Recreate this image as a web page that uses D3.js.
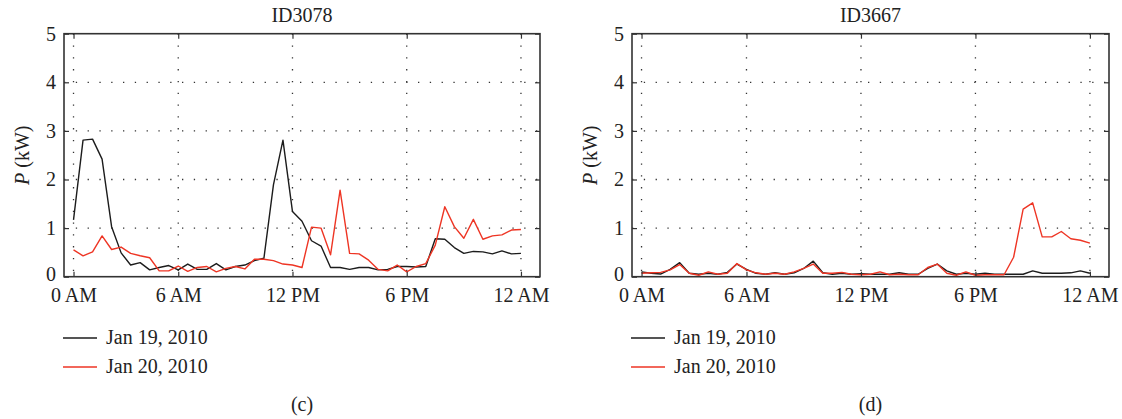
<!DOCTYPE html>
<html lang="en">
<head>
<meta charset="utf-8">
<title>ID3078 / ID3667 load profiles</title>
<script src="https://d3js.org/d3.v7.min.js" charset="utf-8"></script>
<style>
  body { margin: 0; background: #fff; }
  svg text { font-family: "Liberation Serif", "Times New Roman", serif; fill: #222; }
</style>
</head>
<body>
<div id="chart"></div>
<script>
// half-hour samples, numbered 1..48
var slots = d3.range(1, 49);
var xTickValues = [1, 12, 24, 36, 48];
var xTickLabels = ["0 AM", "6 AM", "12 PM", "6 PM", "12 AM"];
var yTickValues = [0, 1, 2, 3, 4, 5];
var seriesNames = ["Jan 19, 2010", "Jan 20, 2010"];

var id3078Jan19 = [1.17, 2.81, 2.83, 2.42, 1.03, 0.49, 0.24, 0.29, 0.14, 0.19, 0.23, 0.14,
                   0.26, 0.15, 0.15, 0.27, 0.14, 0.21, 0.24, 0.33, 0.38, 1.89, 2.81, 1.34,
                   1.14, 0.74, 0.63, 0.19, 0.19, 0.15, 0.19, 0.19, 0.14, 0.15, 0.21, 0.21,
                   0.20, 0.21, 0.78, 0.77, 0.60, 0.48, 0.52, 0.51, 0.47, 0.53, 0.47, 0.48];
var id3078Jan20 = [0.55, 0.43, 0.51, 0.84, 0.56, 0.61, 0.48, 0.43, 0.39, 0.12, 0.12, 0.22,
                   0.11, 0.19, 0.21, 0.10, 0.17, 0.21, 0.16, 0.36, 0.36, 0.33, 0.26, 0.24,
                   0.19, 1.02, 1.00, 0.45, 1.78, 0.48, 0.47, 0.34, 0.15, 0.12, 0.24, 0.10,
                   0.21, 0.27, 0.65, 1.44, 1.03, 0.79, 1.18, 0.77, 0.84, 0.86, 0.96, 0.97];
var id3667Jan19 = [0.10, 0.07, 0.055, 0.15, 0.29, 0.07, 0.05, 0.07, 0.05, 0.09, 0.26, 0.15,
                   0.07, 0.05, 0.08, 0.05, 0.08, 0.17, 0.32, 0.08, 0.05, 0.07, 0.05, 0.06,
                   0.05, 0.05, 0.05, 0.08, 0.05, 0.05, 0.17, 0.26, 0.12, 0.05, 0.07, 0.05,
                   0.07, 0.05, 0.05, 0.05, 0.05, 0.12, 0.07, 0.07, 0.07, 0.08, 0.12, 0.07];
var id3667Jan20 = [0.07, 0.08, 0.09, 0.14, 0.25, 0.07, 0.03, 0.10, 0.05, 0.07, 0.27, 0.14,
                   0.08, 0.05, 0.07, 0.05, 0.10, 0.17, 0.26, 0.07, 0.07, 0.09, 0.05, 0.04,
                   0.05, 0.10, 0.04, 0.05, 0.04, 0.04, 0.19, 0.26, 0.07, 0.03, 0.10, 0.03,
                   0.04, 0.04, 0.04, 0.40, 1.39, 1.52, 0.82, 0.82, 0.93, 0.78, 0.75, 0.69];

var colors = ["#1c1c1c", "#ee3524"];
var fontSize = 20;

var svg = d3.select("#chart").append("svg")
    .attr("width", 1122)
    .attr("height", 419);

var panels = [
    { title: "ID3078", caption: "(c)", left: 64,  right: 540,  series: [id3078Jan19, id3078Jan20] },
    { title: "ID3667", caption: "(d)", left: 632, right: 1109, series: [id3667Jan19, id3667Jan20] }
];

var plotTop = 33.7, plotBottom = 276.7;

panels.forEach(function(p) {
    var x = d3.scaleLinear().domain([0, 50]).range([p.left, p.right]);
    var y = d3.scaleLinear().domain([0, 5]).range([plotBottom, plotTop]);
    var g = svg.append("g");
    var cx = (p.left + p.right) / 2;

    // dotted grid
    g.selectAll(".hgrid").data(yTickValues.slice(1, 5)).enter().append("line")
        .attr("x1", p.left).attr("x2", p.right)
        .attr("y1", function(d) { return y(d); }).attr("y2", function(d) { return y(d); })
        .attr("stroke", "#333").attr("stroke-width", 1.3)
        .attr("stroke-dasharray", "1.3,10.5");
    g.selectAll(".vgrid").data(xTickValues).enter().append("line")
        .attr("x1", function(d) { return x(d); }).attr("x2", function(d) { return x(d); })
        .attr("y1", plotTop).attr("y2", plotBottom)
        .attr("stroke", "#333").attr("stroke-width", 1.3)
        .attr("stroke-dasharray", "1.3,10.5");

    // series
    var line = d3.line()
        .x(function(d, i) { return x(slots[i]); })
        .y(function(d) { return y(d); });
    p.series.forEach(function(s, k) {
        g.append("path")
            .datum(s)
            .attr("fill", "none")
            .attr("stroke", colors[k])
            .attr("stroke-width", 1.4)
            .attr("stroke-linejoin", "round")
            .attr("d", line);
    });

    // axes, ticks pointing inward
    var xAxis = g.append("g")
        .attr("transform", "translate(0," + plotBottom + ")")
        .call(d3.axisBottom(x).tickValues(xTickValues)
            .tickFormat(function(d, i) { return xTickLabels[i]; })
            .tickSizeInner(-5).tickSizeOuter(0).tickPadding(11));
    var yAxis = g.append("g")
        .attr("transform", "translate(" + p.left + ",0)")
        .call(d3.axisLeft(y).tickValues(yTickValues).tickFormat(d3.format("d"))
            .tickSizeInner(-5).tickSizeOuter(0).tickPadding(8));
    var xTop = g.append("g")
        .attr("transform", "translate(0," + plotTop + ")")
        .call(d3.axisTop(x).tickValues(xTickValues).tickFormat("").tickSizeInner(-5).tickSizeOuter(0));
    var yRight = g.append("g")
        .attr("transform", "translate(" + p.right + ",0)")
        .call(d3.axisRight(y).tickValues(yTickValues).tickFormat("").tickSizeInner(-5).tickSizeOuter(0));

    [xAxis, yAxis, xTop, yRight].forEach(function(a) {
        a.select(".domain").remove();
        a.selectAll("line").attr("stroke", "#333").attr("stroke-width", 1.2);
        a.selectAll("text").attr("font-family", null).style("font-size", fontSize + "px").attr("fill", "#222");
    });
    // lift the "0" a little, as in the original, so it clears the hour labels
    yAxis.selectAll(".tick text").filter(function(d) { return d === 0; }).attr("dy", "0.2em");

    g.append("rect")
        .attr("x", p.left).attr("y", plotTop)
        .attr("width", p.right - p.left).attr("height", plotBottom - plotTop)
        .attr("fill", "none").attr("stroke", "#333").attr("stroke-width", 1.6);

    // title
    g.append("text")
        .attr("x", cx).attr("y", 22)
        .attr("text-anchor", "middle")
        .style("font-size", fontSize + "px")
        .text(p.title);

    // y label
    var yl = g.append("text")
        .attr("transform", "translate(" + (p.left - 35) + "," + ((plotTop + plotBottom) / 2) + ") rotate(-90)")
        .attr("text-anchor", "middle")
        .style("font-size", fontSize + "px");
    yl.append("tspan").attr("font-style", "italic").text("P");
    yl.append("tspan").text(" (kW)");

    // legend
    seriesNames.forEach(function(name, k) {
        var ly = 338 + k * 29;
        g.append("line")
            .attr("x1", p.left - 1).attr("x2", p.left + 33)
            .attr("y1", ly).attr("y2", ly)
            .attr("stroke", colors[k]).attr("stroke-width", 1.4);
        g.append("text")
            .attr("x", p.left + 42).attr("y", ly + 6)
            .style("font-size", fontSize + "px")
            .text(name);
    });

    // caption
    g.append("text")
        .attr("x", cx).attr("y", 411)
        .attr("text-anchor", "middle")
        .style("font-size", fontSize + "px")
        .text(p.caption);
});
</script>
</body>
</html>
